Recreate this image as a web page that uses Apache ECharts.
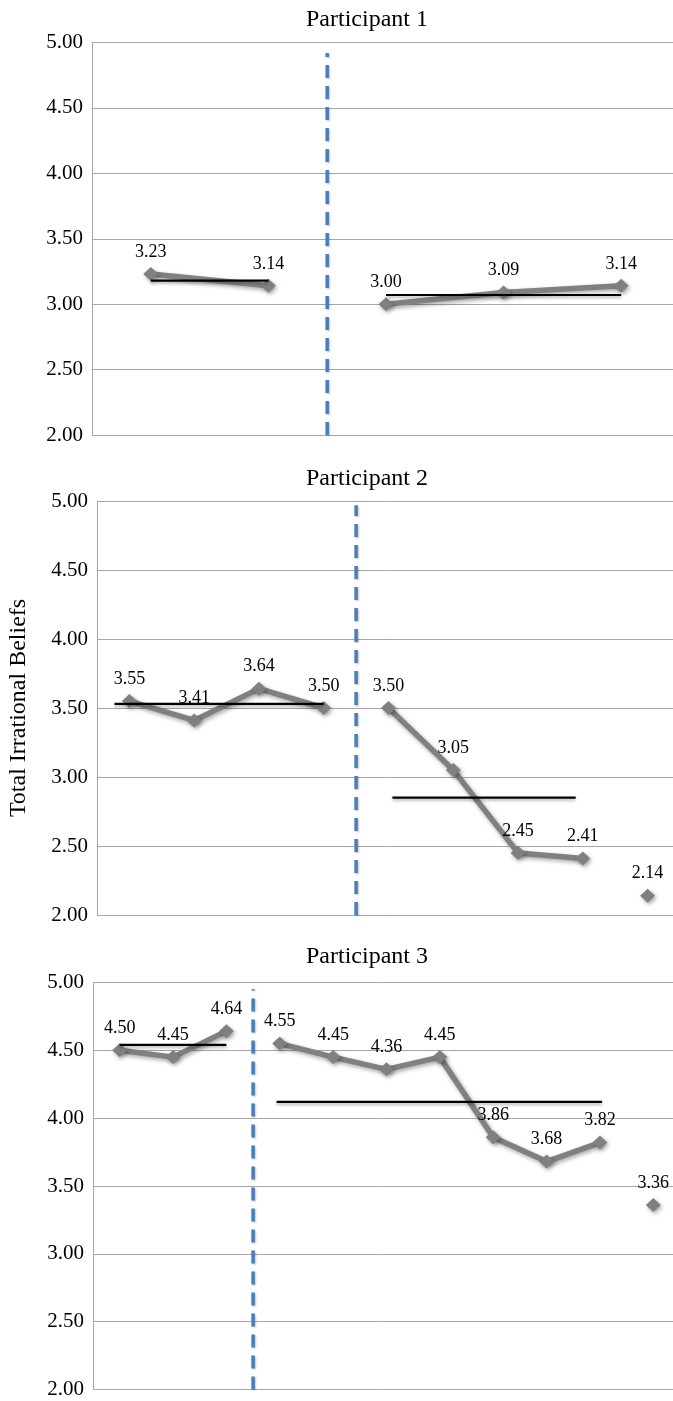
<!DOCTYPE html>
<html>
<head>
<meta charset="utf-8">
<script src="https://cdn.jsdelivr.net/npm/echarts@6/dist/echarts.min.js"></script>
<style>
  html, body { margin: 0; padding: 0; background: #fff; }
  #chart { width: 673px; height: 1401px; }
</style>
</head>
<body>
<div id="chart"></div>
<script>
// ---- data ----
const titles = ['Participant 1', 'Participant 2', 'Participant 3'];
const yAxisTitle = 'Total Irrational Beliefs';
const yTickMin = 2.0, yTickMax = 5.0, yTickStep = 0.5;

const p1Baseline = [3.23, 3.14];
const p1Treatment = [3.00, 3.09, 3.14];
const p1Followup = [];

const p2Baseline = [3.55, 3.41, 3.64, 3.50];
const p2Treatment = [3.50, 3.05, 2.45, 2.41];
const p2Followup = [2.14];

const p3Baseline = [4.50, 4.45, 4.64];
const p3Treatment = [4.55, 4.45, 4.36, 4.45, 3.86, 3.68, 3.82];
const p3Followup = [3.36];

// phase mean levels (black horizontal lines) [baseline, treatment]
const p1Means = [3.18, 3.07];
const p2Means = [3.53, 2.85];
const p3Means = [4.54, 4.12];
// session span covered by each mean line [start, end]
const p1MeanSpans = [[0, 1], [2, 4]];
const p2MeanSpans = [[-0.23, 3], [4.06, 6.89]];
const p3MeanSpans = [[0, 2], [2.94, 9.04]];
// upper end of the dashed phase-change line
const phaseLineTop = [4.92, 4.97, 4.95];

// ---- layout ----
const grids = [
  { left: 92, right: -7, top: 42.5, height: 392.5 },
  { left: 97, right: -7, top: 501, height: 414 },
  { left: 93, right: -7, top: 982.5, height: 407 }
];
const titleTops = [3, 462, 940];

const participants = [
  { b: p1Baseline, t: p1Treatment, f: p1Followup, m: p1Means, s: p1MeanSpans },
  { b: p2Baseline, t: p2Treatment, f: p2Followup, m: p2Means, s: p2MeanSpans },
  { b: p3Baseline, t: p3Treatment, f: p3Followup, m: p3Means, s: p3MeanSpans }
];

const FONT = "'Liberation Serif', 'Times New Roman', serif";
const GRAY = '#a6a6a6';
const DATA_COLOR = '#808080';
const BLUE = '#4a7ebb';

const labelCfg = {
  show: true, position: 'top', distance: 6,
  fontFamily: FONT, fontSize: 18, color: '#000',
  textShadowBlur: 0, textShadowColor: 'transparent',
  formatter: p => p.value[1].toFixed(2)
};
const shadow = { shadowColor: 'rgba(0,0,0,0.35)', shadowBlur: 4, shadowOffsetX: 1.5, shadowOffsetY: 2 };

const option = {
  animation: false,
  backgroundColor: '#fff',
  title: titles.map((t, i) => ({
    text: t, left: 362, top: titleTops[i], textAlign: 'center',
    textStyle: { fontFamily: FONT, fontSize: 24, fontWeight: 'normal', color: '#000' }
  })),
  grid: grids.map(g => Object.assign({ outerBoundsMode: 'none', containLabel: false }, g)),
  xAxis: [], yAxis: [], series: []
};

participants.forEach((p, i) => {
  const n = p.b.length + p.t.length + p.f.length;
  option.xAxis.push({
    type: 'value', gridIndex: i, min: -0.5, max: n - 0.5, show: false
  });
  option.yAxis.push({
    type: 'value', gridIndex: i, min: yTickMin, max: yTickMax, interval: yTickStep,
    name: i === 1 ? yAxisTitle : '', nameLocation: 'middle', nameRotate: 90, nameGap: 66,
    nameTextStyle: { fontFamily: FONT, fontSize: 24, color: '#000' },
    axisLine: { show: true, onZero: false, lineStyle: { color: GRAY, width: 1 } },
    axisTick: { show: false },
    axisLabel: { fontFamily: FONT, fontSize: 21, color: '#000', margin: 9,
      formatter: v => v.toFixed(2) },
    splitLine: { show: true, lineStyle: { color: GRAY, width: 1 } }
  });

  const nb = p.b.length, nt = p.t.length;
  const basePts = p.b.map((v, k) => [k, v]);
  const treatPts = p.t.map((v, k) => [nb + k, v]);
  const followPts = p.f.map((v, k) => [nb + nt + k, v]);

  const dataSeries = (pts) => ({
    type: 'line', xAxisIndex: i, yAxisIndex: i, data: pts, z: 3,
    symbol: 'diamond', symbolSize: [15, 14], showSymbol: true,
    lineStyle: Object.assign({ color: DATA_COLOR, width: 5.5 }, shadow),
    itemStyle: Object.assign({ color: DATA_COLOR }, shadow),
    label: labelCfg
  });
  option.series.push(dataSeries(basePts));
  option.series.push(dataSeries(treatPts));
  if (followPts.length) option.series.push(dataSeries(followPts));

  // mean lines
  p.m.forEach((level, k) => {
    option.series.push({
      type: 'line', xAxisIndex: i, yAxisIndex: i, z: 4, symbol: 'none', silent: true,
      data: [[p.s[k][0], level], [p.s[k][1], level]],
      lineStyle: { color: '#000', width: 2.2, shadowColor: 'rgba(0,0,0,0.3)', shadowBlur: 3, shadowOffsetY: 2 }
    });
  });

  // dashed phase-change line
  const px = nb - 0.5;
  option.series.push({
    type: 'line', xAxisIndex: i, yAxisIndex: i, z: 2, symbol: 'none', silent: true,
    data: [[px, yTickMin], [px, phaseLineTop[i]]],
    lineStyle: { color: BLUE, width: 3.5, type: [13, 8],
      shadowColor: 'rgba(0,0,0,0.25)', shadowBlur: 2, shadowOffsetX: 1, shadowOffsetY: 1 }
  });
});

const chart = echarts.init(document.getElementById('chart'), null, { renderer: 'canvas' });
chart.setOption(option);
</script>
</body>
</html>
